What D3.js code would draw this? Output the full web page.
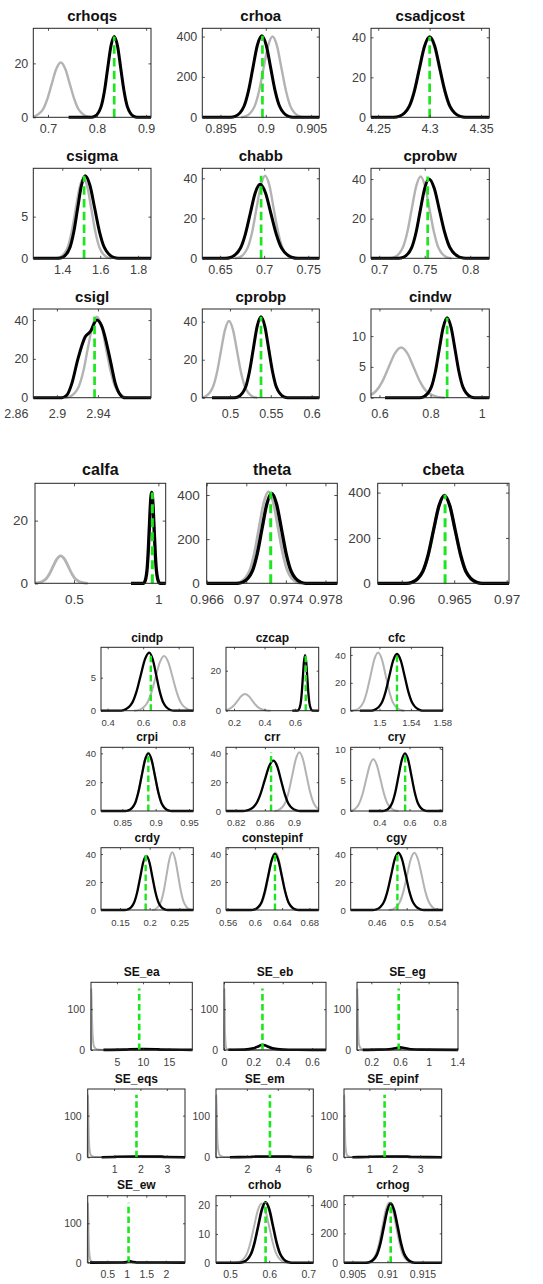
<!DOCTYPE html>
<html>
<head>
<meta charset="utf-8">
<script src="https://cdn.jsdelivr.net/npm/d3@7"></script>
<style>
  html, body { margin: 0; padding: 0; background: #ffffff; }
  svg { display: block; }
</style>
</head>
<body>
<svg id="fig" width="543" height="1284"></svg>
<script>
// ---------------------------------------------------------------------------
// Estimated parameters: prior (grey) vs posterior (black) densities,
// posterior mode marked with a green dashed line.
// ---------------------------------------------------------------------------
const names = [
  "crhoqs", "crhoa", "csadjcost", "csigma", "chabb", "cprobw", "csigl", "cprobp", "cindw",
  "calfa", "theta", "cbeta",
  "cindp", "czcap", "cfc", "crpi", "crr", "cry", "crdy", "constepinf", "cgy",
  "SE_ea", "SE_eb", "SE_eg", "SE_eqs", "SE_em", "SE_epinf", "SE_ew", "crhob", "crhog"
];

const modes = [
  0.835, 0.89963, 4.30, 1.515, 0.6966, 0.7533, 2.9367, 0.538, 0.865,
  0.9644, 0.97247, 0.96413,
  0.643, 0.67, 1.5223, 0.889, 0.8685, 0.571, 0.1933, 0.6295, 0.4876,
  9.28, 0.262, 0.582, 1.85, 3.49, 1.6, 1.045, 0.5908, 0.91046
];

const xLimits = [
  [0.67, 0.91], [0.893, 0.9059], [4.243, 4.358], [1.247, 1.868], [0.630, 0.7625],
  [0.691, 0.821], [2.877, 2.9917], [0.4661, 0.6094], [0.567, 1.030],
  [0.2688, 1.0435], [0.966, 0.9792], [0.95771, 0.97022],
  [0.3624, 0.8826], [0.1475, 0.755], [1.4634, 1.5805], [0.818, 0.9565], [0.8067, 0.9338],
  [0.21, 0.82], [0.118, 0.2736], [0.5576, 0.6937], [0.4253, 0.548],
  [0, 19.5], [0, 0.695], [0, 1.41], [0, 3.69], [0, 6.3], [0, 3.85], [0, 2.49],
  [0.464, 0.7128], [0.90379, 0.91774]
];

const yLimits = [
  33, 441, 44.5, 10.8, 45, 45.4, 45.7, 46.7, 14.4,
  31.9, 453, 441,
  9.6, 31.7, 45.5, 44.2, 44.2, 10.27, 44.5, 44.5, 44.5,
  166, 166, 166, 164, 164, 164, 170, 23.3, 457
];

const xTicks = [
  [0.7, 0.8, 0.9], [0.895, 0.9, 0.905], [4.25, 4.3, 4.35], [1.4, 1.6, 1.8], [0.65, 0.7, 0.75],
  [0.7, 0.75, 0.8], [2.86, 2.9, 2.94], [0.5, 0.55, 0.6], [0.6, 0.8, 1],
  [0.5, 1], [0.966, 0.97, 0.974, 0.978], [0.96, 0.965, 0.97],
  [0.4, 0.6, 0.8], [0.2, 0.4, 0.6], [1.5, 1.54, 1.58], [0.85, 0.9, 0.95], [0.82, 0.86, 0.9],
  [0.4, 0.6, 0.8], [0.15, 0.2, 0.25], [0.56, 0.6, 0.64, 0.68], [0.46, 0.5, 0.54],
  [5, 10, 15], [0, 0.2, 0.4, 0.6], [0.2, 0.6, 1, 1.4], [1, 2, 3], [2, 4, 6], [1, 2, 3],
  [0.5, 1, 1.5, 2], [0.5, 0.6, 0.7], [0.905, 0.91, 0.915]
];

const yTicks = [
  [0, 20], [0, 200, 400], [0, 20, 40], [0, 5], [0, 20, 40], [0, 20, 40], [0, 20, 40], [0, 20, 40], [0, 5, 10],
  [0, 20], [0, 200, 400], [0, 200, 400],
  [0, 5], [0, 20], [0, 20, 40], [0, 20, 40], [0, 20, 40], [0, 5, 10], [0, 20, 40], [0, 20, 40], [0, 20, 40],
  [0, 100], [0, 100], [0, 100], [0, 100], [0, 100], [0, 100], [0, 100], [0, 10, 20], [0, 200, 400]
];

// Density curves as [value, density] pairs
const crhoqsPrior = [[0.67,0.2],[0.689,2.75],[0.6983,6.6],[0.7075,12.3],[0.7168,17.9],[0.726,20.3],[0.7353,17.9],[0.7445,12.3],[0.7538,6.6],[0.763,2.75],[0.7815,0.23],[0.7908,0]];
const crhoqsPost = [[0.742,0],[0.7885,0],[0.7951,0.33],[0.8084,4.06],[0.8151,9.74],[0.8217,18.2],[0.8284,26.5],[0.835,30],[0.8417,26.5],[0.8483,18.2],[0.855,9.74],[0.8616,4.06],[0.8749,0.33],[0.8816,0],[0.91,0]];

const crhoaPrior = [[0.89728,0],[0.89777,4.4],[0.89876,54.1],[0.89926,130],[0.89975,243],[0.90025,353],[0.90074,400],[0.90124,353],[0.90173,243],[0.90223,130],[0.90272,54.1],[0.90371,4.4],[0.9042,0]];
const crhoaPost = [[0.893,0],[0.89613,0],[0.89662,4.5],[0.8976,54.7],[0.89809,131],[0.89858,245],[0.89907,357],[0.89956,404],[0.90005,357],[0.90054,245],[0.90103,131],[0.90152,54.7],[0.9025,4.5],[0.90299,0],[0.9059,0]];

const csadjcostPrior = [[4.2648,0],[4.2698,0.44],[4.2797,5.41],[4.2847,13.0],[4.2896,24.3],[4.2946,35.3],[4.2995,40],[4.3045,35.3],[4.3094,24.3],[4.3144,13.0],[4.3193,5.41],[4.3292,0.44],[4.3342,0]];
const csadjcostPost = [[4.243,0],[4.2654,0],[4.2703,0.45],[4.2802,5.45],[4.2852,13.1],[4.2901,24.4],[4.2951,35.6],[4.30,40.3],[4.3050,35.6],[4.3099,24.4],[4.3149,13.1],[4.3198,5.45],[4.3297,0.45],[4.3347,0],[4.358,0]];

const csigmaPrior = [[1.365,0],[1.386,0.11],[1.428,1.3],[1.449,3.12],[1.47,5.82],[1.491,8.47],[1.512,9.6],[1.533,8.47],[1.554,5.82],[1.575,3.12],[1.596,1.3],[1.638,0.11],[1.659,0]];
const csigmaPost = [[1.247,0],[1.381,0],[1.401,0.11],[1.441,1.34],[1.461,3.21],[1.481,6.0],[1.501,8.74],[1.521,9.9],[1.546,8.74],[1.571,6.0],[1.596,3.21],[1.621,1.34],[1.671,0.11],[1.696,0],[1.868,0]];

const chabbPrior = [[0.6671,0],[0.672,0.46],[0.6817,5.59],[0.6866,13.4],[0.6914,25.0],[0.6963,36.4],[0.7011,41.3],[0.706,36.4],[0.7108,25.0],[0.7157,13.4],[0.7205,5.59],[0.7302,0.46],[0.7351,0]];
const chabbPost = [[0.630,0],[0.6563,0],[0.6619,0.41],[0.6731,5.0],[0.6787,12.0],[0.6843,22.4],[0.6899,32.7],[0.6955,37],[0.7016,32.7],[0.7077,22.4],[0.7138,12.0],[0.7199,5.0],[0.7321,0.41],[0.7382,0],[0.7625,0]];

const cprobwPrior = [[0.7115,0],[0.7164,0.46],[0.7261,5.59],[0.731,13.4],[0.7358,25.0],[0.7407,36.4],[0.7455,41.3],[0.7504,36.4],[0.7552,25.0],[0.7601,13.4],[0.7649,5.59],[0.7746,0.46],[0.7795,0]];
const cprobwPost = [[0.691,0],[0.7215,0],[0.7262,0.44],[0.7357,5.41],[0.7405,13.0],[0.7452,24.3],[0.75,35.3],[0.7547,40],[0.7605,35.3],[0.7662,24.3],[0.772,13.0],[0.7777,5.41],[0.7892,0.44],[0.795,0],[0.821,0]];

const csiglPrior = [[2.9079,0],[2.9123,0.46],[2.9212,5.64],[2.9257,13.5],[2.9301,25.3],[2.9346,36.8],[2.939,41.7],[2.9435,36.8],[2.9479,25.3],[2.9524,13.5],[2.9568,5.64],[2.9657,0.46],[2.9702,0]];
const csiglPost = [[2.877,0],[2.9049,0],[2.9098,1.4],[2.9146,7.4],[2.9202,19.4],[2.9276,31.4],[2.9325,34.0],[2.939,40.0],[2.9439,36.6],[2.952,19.4],[2.9569,7.4],[2.9618,1.4],[2.965,0],[2.9917,0]];

const cprobpPrior = [[0.4661,0.1],[0.4692,0.45],[0.479,5.47],[0.484,13.1],[0.4889,24.5],[0.4939,35.7],[0.4988,40.4],[0.5037,35.7],[0.5087,24.5],[0.5136,13.1],[0.5186,5.47],[0.5284,0.45],[0.5334,0]];
const cprobpPost = [[0.478,0],[0.5052,0],[0.5099,0.47],[0.5193,5.76],[0.5239,13.8],[0.5286,25.8],[0.5333,37.6],[0.538,42.6],[0.5427,37.6],[0.5474,25.8],[0.5521,13.8],[0.5567,5.76],[0.5661,0.47],[0.5708,0],[0.6094,0]];

const cindwPrior = [[0.567,0.45],[0.5872,1.1],[0.6117,2.65],[0.6361,4.95],[0.6606,7.2],[0.685,8.16],[0.7095,7.2],[0.7339,4.95],[0.7584,2.65],[0.7828,1.1],[0.8317,0.09],[0.8562,0]];
const cindwPost = [[0.622,0],[0.7572,0],[0.7726,0.14],[0.8034,1.75],[0.8188,4.21],[0.8342,7.87],[0.8496,11.4],[0.865,12.97],[0.8804,11.4],[0.8958,7.87],[0.9112,4.21],[0.9266,1.75],[0.9574,0.14],[0.9728,0],[1.03,0]];

const calfaPrior = [[0.2688,0.03],[0.2839,0.1],[0.3296,1.18],[0.3525,2.83],[0.3753,5.29],[0.3982,7.7],[0.421,8.72],[0.4439,7.7],[0.4667,5.29],[0.4896,2.83],[0.5124,1.18],[0.5581,0.1],[0.581,0]];
const calfaPost = [[0.838,0],[0.911,0],[0.918,0.32],[0.9322,3.92],[0.9393,9.42],[0.9464,17.6],[0.9534,25.6],[0.9605,29],[0.9676,25.6],[0.9747,17.6],[0.9817,9.42],[0.9888,3.92],[1.003,0.32],[1.01,0],[1.0435,0]];

const thetaPrior = [[0.96889,0],[0.96937,4.6],[0.97033,56.2],[0.97081,135],[0.97129,252],[0.97177,366],[0.97225,415],[0.97273,366],[0.97321,252],[0.97369,135],[0.97417,56.2],[0.97513,4.6],[0.97561,0]];
const thetaPost = [[0.966,0],[0.96914,0],[0.96963,4.5],[0.97061,55.1],[0.9711,132],[0.97159,247],[0.97208,359],[0.97257,407],[0.97306,359],[0.97355,247],[0.97404,132],[0.97453,55.1],[0.97551,4.5],[0.976,0],[0.9792,0]];

const cbetaPrior = [[0.96052,0],[0.96103,4.3],[0.96204,52.8],[0.96255,127],[0.96305,237],[0.96356,344],[0.96406,390],[0.96457,344],[0.96507,237],[0.96558,127],[0.96608,52.8],[0.96709,4.3],[0.9676,0]];
const cbetaPost = [[0.95771,0],[0.96045,0],[0.96097,4.3],[0.962,52.4],[0.96252,126],[0.96303,235],[0.96355,342],[0.96406,387],[0.96458,342],[0.96509,235],[0.96561,126],[0.96612,52.4],[0.96715,4.3],[0.96767,0],[0.97022,0]];

const cindpPrior = [[0.5493,0],[0.5734,0.09],[0.6216,1.12],[0.6457,2.69],[0.6698,5.02],[0.6939,7.31],[0.718,8.28],[0.7421,7.31],[0.7662,5.02],[0.7903,2.69],[0.8144,1.12],[0.8626,0.09],[0.8826,0]];
const cindpPost = [[0.3624,0],[0.466,0],[0.49,0.1],[0.538,1.19],[0.562,2.85],[0.586,5.33],[0.61,7.76],[0.634,8.79],[0.654,7.76],[0.674,5.33],[0.694,2.85],[0.714,1.19],[0.754,0.1],[0.774,0],[0.8826,0]];

const czcapPrior = [[0.1475,0.28],[0.1762,1.13],[0.2002,2.7],[0.2241,5.05],[0.2481,7.35],[0.272,8.33],[0.296,7.35],[0.3199,5.05],[0.3439,2.7],[0.3678,1.13],[0.4157,0.09],[0.4397,0]];
const czcapPost = [[0.582,0],[0.6154,0],[0.6226,0.31],[0.6369,3.76],[0.6441,9.03],[0.6513,16.9],[0.6584,24.5],[0.6656,27.8],[0.6728,24.5],[0.68,16.9],[0.6871,9.03],[0.6943,3.76],[0.7087,0.31],[0.7158,0],[0.755,0]];

const cfcPrior = [[1.4634,0],[1.4696,0.46],[1.4792,5.64],[1.4839,13.5],[1.4887,25.3],[1.4935,36.8],[1.4983,41.7],[1.5031,36.8],[1.5079,25.3],[1.5127,13.5],[1.5174,5.64],[1.527,0.46],[1.5318,0]];
const cfcPost = [[1.475,0],[1.488,0],[1.4929,0.45],[1.5027,5.51],[1.5076,13.2],[1.5125,24.7],[1.5174,35.9],[1.5223,40.7],[1.5272,35.9],[1.5321,24.7],[1.537,13.2],[1.5419,5.51],[1.5517,0.45],[1.5566,0],[1.5805,0]];

const crpiPrior = [[0.8547,0],[0.8596,0.45],[0.8694,5.49],[0.8743,13.2],[0.8792,24.6],[0.8841,35.8],[0.889,40.6],[0.8939,35.8],[0.8988,24.6],[0.9037,13.2],[0.9086,5.49],[0.9184,0.45],[0.9233,0]];
const crpiPost = [[0.818,0],[0.8541,0],[0.8591,0.44],[0.8691,5.41],[0.874,13.0],[0.879,24.3],[0.884,35.3],[0.889,40],[0.894,35.3],[0.899,24.3],[0.904,13.0],[0.9089,5.41],[0.9189,0.44],[0.9239,0],[0.9565,0]];

const crrPrior = [[0.873,0],[0.8779,0.45],[0.8877,5.51],[0.8926,13.2],[0.8975,24.7],[0.9024,35.9],[0.9073,40.7],[0.9122,35.9],[0.9171,24.7],[0.922,13.2],[0.9269,5.51],[0.9338,1.0]];
const crrPost = [[0.8067,0],[0.8297,0],[0.8357,0.39],[0.8477,4.74],[0.8537,11.4],[0.8597,21.2],[0.8657,30.9],[0.8717,35],[0.877,30.9],[0.8822,21.2],[0.8875,11.4],[0.8927,4.74],[0.9032,0.39],[0.9085,0],[0.9338,0]];

const cryPrior = [[0.21,0.06],[0.2405,0.37],[0.2644,1.13],[0.2883,2.71],[0.3122,5.06],[0.3361,7.36],[0.36,8.34],[0.3839,7.36],[0.4078,5.06],[0.4317,2.71],[0.4556,1.13],[0.5034,0.09],[0.5273,0]];
const cryPost = [[0.33,0],[0.4199,0],[0.4413,0.1],[0.4842,1.26],[0.5057,3.02],[0.5271,5.64],[0.5486,8.21],[0.57,9.3],[0.5915,8.21],[0.6129,5.64],[0.6344,3.02],[0.6558,1.26],[0.6987,0.1],[0.7202,0],[0.82,0]];

const crdyPrior = [[0.2044,0],[0.2092,0.46],[0.2188,5.57],[0.2237,13.4],[0.2285,25.0],[0.2334,36.4],[0.2382,41.2],[0.243,36.4],[0.2479,25.0],[0.2527,13.4],[0.2576,5.57],[0.2672,0.46],[0.2736,0]];
const crdyPost = [[0.118,0],[0.1582,0],[0.1634,0.43],[0.1737,5.22],[0.1789,12.5],[0.1841,23.4],[0.1892,34.1],[0.1944,38.6],[0.1996,34.1],[0.2047,23.4],[0.2099,12.5],[0.2151,5.22],[0.2254,0.43],[0.2306,0],[0.2736,0]];

const constepinfPrior = [[0.596,0],[0.6009,0.46],[0.6106,5.55],[0.6155,13.3],[0.6203,24.9],[0.6252,36.2],[0.63,41],[0.6349,36.2],[0.6397,24.9],[0.6446,13.3],[0.6494,5.55],[0.6591,0.46],[0.664,0]];
const constepinfPost = [[0.5576,0],[0.5946,0],[0.5996,0.44],[0.6096,5.41],[0.6145,13.0],[0.6195,24.3],[0.6245,35.3],[0.6295,40],[0.6345,35.3],[0.6395,24.3],[0.6445,13.0],[0.6494,5.41],[0.6594,0.44],[0.6644,0],[0.6937,0]];

const cgyPrior = [[0.4761,0],[0.481,0.45],[0.4907,5.53],[0.4956,13.3],[0.5005,24.8],[0.5053,36.1],[0.5102,40.9],[0.5151,36.1],[0.52,24.8],[0.5248,13.3],[0.5297,5.53],[0.5395,0.45],[0.548,0]];
const cgyPost = [[0.4253,0],[0.4548,0],[0.4597,0.45],[0.4694,5.53],[0.4743,13.3],[0.4792,24.8],[0.484,36.1],[0.4889,40.9],[0.4938,36.1],[0.4987,24.8],[0.5035,13.3],[0.5084,5.53],[0.5182,0.45],[0.523,0],[0.548,0]];

const seEaPrior = [[0,0],[0.05,151],[0.15,100],[0.3,40],[0.6,8],[1.2,1.5],[2.5,0.3],[19.5,0]];
const seEaPost = [[2.4,0.3],[6.5,0.8],[7.5,2.0],[10,2.2],[12.5,2.0],[13.5,1.0],[19.5,0.3]];

const seEbPrior = [[0,0],[0.003,151],[0.006,50],[0.015,5],[0.03,1],[0.1,0.2],[0.695,0]];
const seEbPost = [[0.03,0.5],[0.14,1],[0.2,4],[0.24,10],[0.262,13],[0.29,10],[0.33,4],[0.4,1],[0.5,0.5],[0.695,0.3]];

const seEgPrior = [[0,0],[0.005,151],[0.015,60],[0.03,12],[0.06,3],[0.1,0.5],[1.41,0]];
const seEgPost = [[0.08,0.3],[0.3,0.8],[0.45,2],[0.55,5],[0.6,6.5],[0.66,5],[0.75,2],[0.9,0.8],[1.41,0.3]];

const seEqsPrior = [[0,0],[0.01,150],[0.03,80],[0.06,25],[0.12,5],[0.25,1],[3.69,0]];
const seEqsPost = [[0.53,0.3],[1.0,0.6],[1.1,1.5],[1.8,2],[2.8,1.6],[2.95,0.6],[3.69,0.3]];

const seEmPrior = [[0,0],[0.02,150],[0.06,80],[0.12,25],[0.25,5],[0.5,1],[6.3,0]];
const seEmPost = [[0.9,0.3],[2.2,0.6],[2.4,1.5],[3.5,2],[4.8,1.6],[5.0,0.6],[6.3,0.3]];

const seEpinfPrior = [[0,0],[0.01,150],[0.03,80],[0.06,25],[0.12,5],[0.25,1],[3.85,0]];
const seEpinfPost = [[0.33,0.3],[0.9,0.6],[1.05,1.5],[1.6,2],[2.5,1.6],[2.7,0.6],[3.85,0.3]];

const seEwPrior = [[0,0],[0.006,152],[0.02,80],[0.04,25],[0.08,5],[0.15,1],[2.49,0]];
const seEwPost = [[0.06,0.3],[0.9,0.6],[1.0,2],[1.05,4],[1.15,2],[1.25,0.6],[2.49,0.3]];

const crhobPrior = [[0.5127,0],[0.5224,0.23],[0.5418,2.79],[0.5515,6.69],[0.5612,12.5],[0.5709,18.2],[0.5806,20.6],[0.5903,18.2],[0.6,12.5],[0.6097,6.69],[0.6194,2.79],[0.6388,0.23],[0.6485,0]];
const crhobPost = [[0.464,0],[0.5243,0],[0.5338,0.23],[0.5528,2.84],[0.5623,6.82],[0.5718,12.7],[0.5813,18.5],[0.5908,21],[0.6003,18.5],[0.6098,12.7],[0.6193,6.82],[0.6288,2.84],[0.6478,0.23],[0.6573,0],[0.7128,0]];

const crhogPrior = [[0.90686,0],[0.90735,4.6],[0.90832,55.5],[0.90881,133],[0.90929,249],[0.90978,362],[0.91026,410],[0.91075,362],[0.91123,249],[0.91172,133],[0.9122,55.5],[0.91317,4.6],[0.91366,0]];
const crhogPost = [[0.90379,0],[0.90701,0],[0.9075,4.5],[0.90849,54.8],[0.90898,131],[0.90948,246],[0.90997,357],[0.91046,405],[0.91095,357],[0.91145,246],[0.91194,131],[0.91243,54.8],[0.91342,4.5],[0.91391,0],[0.91774,0]];

const priors = [
  crhoqsPrior, crhoaPrior, csadjcostPrior, csigmaPrior, chabbPrior, cprobwPrior, csiglPrior, cprobpPrior, cindwPrior,
  calfaPrior, thetaPrior, cbetaPrior,
  cindpPrior, czcapPrior, cfcPrior, crpiPrior, crrPrior, cryPrior, crdyPrior, constepinfPrior, cgyPrior,
  seEaPrior, seEbPrior, seEgPrior, seEqsPrior, seEmPrior, seEpinfPrior, seEwPrior, crhobPrior, crhogPrior
];
const posteriors = [
  crhoqsPost, crhoaPost, csadjcostPost, csigmaPost, chabbPost, cprobwPost, csiglPost, cprobpPost, cindwPost,
  calfaPost, thetaPost, cbetaPost,
  cindpPost, czcapPost, cfcPost, crpiPost, crrPost, cryPost, crdyPost, constepinfPost, cgyPost,
  seEaPost, seEbPost, seEgPost, seEqsPost, seEmPost, seEpinfPost, seEwPost, crhobPost, crhogPost
];

// ---------------------------------------------------------------------------
// Layout: four figure pages stacked vertically, 3 panels per row
// ---------------------------------------------------------------------------
const styles = {
  A: { title: 15,   tick: 12.5, black: 3.0, gray: 2.4, green: 2.7, dash: "8.5,4.2", yGap: 5,   tickLen: 2.5, titleGap: 7.5 },
  B: { title: 16,   tick: 13.5, black: 3.3, gray: 2.8, green: 3.0, dash: "9,5",     yGap: 7,   tickLen: 3,   titleGap: 8.3 },
  C: { title: 12,   tick: 9.5,  black: 2.3, gray: 2.0, green: 2.4, dash: "6.5,3.2", yGap: 5,   tickLen: 2,   titleGap: 6 },
  D: { title: 12,   tick: 10.5, black: 2.6, gray: 2.0, green: 2.6, dash: "6.5,3.4", yGap: 6,   tickLen: 2,   titleGap: 6.3 }
};

const colsA = [[33.3, 151], [202.3, 319.3], [371, 489.3]];
const colsB = [[35, 165.7], [206.7, 337.3], [377.7, 509]];
const colsC = [[101, 193.3], [226, 318.7], [350.7, 442.7]];
const colsD1 = [[91, 192.3], [224, 326], [357, 458]];
const colsD2 = [[87.7, 185], [216, 313.3], [344, 441.7]];

const rows = [
  { first: 0,  cols: colsA,  y: [28.3, 117.3],   style: "A", xPad: 6.5 },
  { first: 3,  cols: colsA,  y: [168.3, 258.3],  style: "A", xPad: 7 },
  { first: 6,  cols: colsA,  y: [309, 397.7],    style: "A", xPad: 11.5 },
  { first: 9,  cols: colsB,  y: [483.3, 583.3],  style: "B", xPad: 11 },
  { first: 12, cols: colsC,  y: [647.3, 710.7],  style: "C", xPad: 8.5, titleGap: 5 },
  { first: 15, cols: colsC,  y: [747.3, 811],    style: "C", xPad: 8 },
  { first: 18, cols: colsC,  y: [847.7, 910],    style: "C", xPad: 9 },
  { first: 21, cols: colsD1, y: [982.3, 1050],   style: "D", xPad: 8.2 },
  { first: 24, cols: colsD2, y: [1089, 1157.3],  style: "D", xPad: 8.2 },
  { first: 27, cols: colsD2, y: [1195.7, 1262.7], style: "D", xPad: 8.2 }
];

const FONT = "'Liberation Sans', Arial, Helvetica, sans-serif";
const svg = d3.select("#fig");

rows.forEach(row => {
  const st = styles[row.style];
  const [y0, y1] = row.y;
  row.cols.forEach(([x0, x1], j) => {
    const p = row.first + j;
    const x = d3.scaleLinear().domain(xLimits[p]).range([x0, x1]);
    const y = d3.scaleLinear().domain([0, yLimits[p]]).range([y1, y0]);
    const g = svg.append("g").attr("class", "panel");

    const line = d3.line()
      .x(d => x(d[0]))
      .y(d => y(d[1]))
      .curve(d3.curveMonotoneX);

    // prior density
    g.append("path")
      .attr("d", line(priors[p]))
      .attr("fill", "none")
      .attr("stroke", "#b3b3b3")
      .attr("stroke-width", st.gray)
      .attr("stroke-linejoin", "round");

    // posterior density
    g.append("path")
      .attr("d", line(posteriors[p]))
      .attr("fill", "none")
      .attr("stroke", "#000000")
      .attr("stroke-width", st.black)
      .attr("stroke-linejoin", "round");

    // posterior mode, up to the highest density
    const top = d3.max(priors[p].concat(posteriors[p]), d => d[1]);
    g.append("line")
      .attr("x1", x(modes[p])).attr("x2", x(modes[p]))
      .attr("y1", y(0)).attr("y2", y(top))
      .attr("stroke", "#1ee61e")
      .attr("stroke-width", st.green)
      .attr("stroke-dasharray", st.dash);

    // frame
    g.append("rect")
      .attr("x", x0).attr("y", y0)
      .attr("width", x1 - x0).attr("height", y1 - y0)
      .attr("fill", "none")
      .attr("stroke", "#262626")
      .attr("stroke-width", 1);

    const inX = v => v >= xLimits[p][0] && v <= xLimits[p][1];

    // bottom axis with labels
    const ax = g.append("g")
      .attr("transform", `translate(0,${y1})`)
      .call(d3.axisBottom(x).tickValues(xTicks[p]).tickSize(-st.tickLen)
        .tickPadding(row.xPad).tickFormat(d => String(d)));
    // left axis with labels
    const ay = g.append("g")
      .attr("transform", `translate(${x0},0)`)
      .call(d3.axisLeft(y).tickValues(yTicks[p]).tickSize(-st.tickLen)
        .tickPadding(st.yGap).tickFormat(d => String(d)));
    // mirrored ticks on top and right
    const at = g.append("g")
      .attr("transform", `translate(0,${y0})`)
      .call(d3.axisTop(x).tickValues(xTicks[p].filter(inX)).tickSize(-st.tickLen).tickFormat(""));
    const ar = g.append("g")
      .attr("transform", `translate(${x1},0)`)
      .call(d3.axisRight(y).tickValues(yTicks[p]).tickSize(-st.tickLen).tickFormat(""));

    [ax, ay, at, ar].forEach(a => {
      a.select(".domain").remove();
      a.attr("font-family", FONT).attr("font-size", st.tick);
      a.selectAll(".tick line").attr("stroke", "#262626").attr("stroke-width", 0.8);
      a.selectAll(".tick text").attr("fill", "#404040");
    });
    ax.selectAll(".tick").filter(d => !inX(d)).select("line").remove();

    // title
    g.append("text")
      .attr("x", (x0 + x1) / 2)
      .attr("y", y0 - (row.titleGap !== undefined ? row.titleGap : st.titleGap))
      .attr("text-anchor", "middle")
      .attr("font-family", FONT)
      .attr("font-weight", "bold")
      .attr("font-size", st.title)
      .attr("fill", "#111111")
      .text(names[p]);
  });
});
</script>
</body>
</html>
